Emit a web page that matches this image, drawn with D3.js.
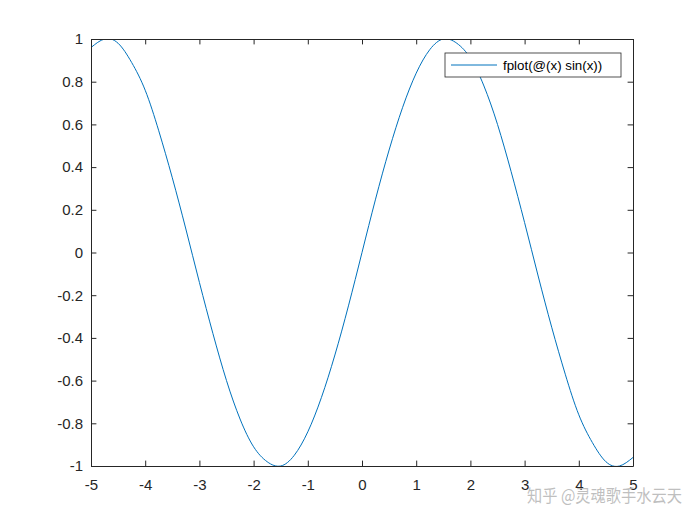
<!doctype html>
<html lang="zh">
<head>
    <meta charset="UTF-8">
    <title>fplot sin(x)</title>
    <script src="https://d3js.org/d3.v7.min.js"></script>
    <style>
      body { margin: 0; background: #fff; }
      text { font-family: "Liberation Sans", Arial, sans-serif; }
    </style>
</head>
<body>
    <svg width="700" height="525"></svg>

    <script>

      // Data
      const xs = [-5, -4.75, -4.5, -4.25, -4, -3.75, -3.5, -3.25, -3, -2.75, -2.5, -2.25, -2,
                  -1.75, -1.5, -1.25, -1, -0.75, -0.5, -0.25, 0, 0.25, 0.5, 0.75, 1, 1.25,
                  1.5, 1.75, 2, 2.25, 2.5, 2.75, 3, 3.25, 3.5, 3.75, 4, 4.25, 4.5, 4.75, 5];
      const ys = [0.96, 1.00, 0.98, 0.89, 0.76, 0.57, 0.35, 0.11, -0.14, -0.38, -0.60, -0.78, -0.91,
                  -0.98, -1.00, -0.95, -0.84, -0.68, -0.48, -0.25, 0, 0.25, 0.48, 0.68, 0.84, 0.95,
                  1.00, 0.98, 0.91, 0.78, 0.60, 0.38, 0.14, -0.11, -0.35, -0.57, -0.76, -0.89, -0.98, -1.00, -0.96];
      const xTicks = [-5, -4, -3, -2, -1, 0, 1, 2, 3, 4, 5];
      const yTicks = [-1, -0.8, -0.6, -0.4, -0.2, 0, 0.2, 0.4, 0.6, 0.8, 1];
      const legendLabel = "fplot(@(x) sin(x))";

      const svg = d3.select("svg");
      const pl = 91, pr = 633, pt = 39, pb = 466;
      const x = d3.scaleLinear().domain([-5, 5]).range([pl, pr]);
      const y = d3.scaleLinear().domain([-1, 1]).range([pb, pt]);
      const tick = 5.4;

      svg.append("clipPath").attr("id", "clip")
        .append("rect")
          .attr("x", pl).attr("y", pt)
          .attr("width", pr - pl).attr("height", pb - pt);

      // Curve
      const pts = xs.map((d, i) => [d, ys[i]]);
      svg.append("path")
          .attr("clip-path", "url(#clip)")
          .attr("d", d3.line().x(d => x(d[0])).y(d => y(d[1])).curve(d3.curveNatural)(pts))
          .attr("fill", "none")
          .attr("stroke", "#0072BD")
          .attr("stroke-width", 1);

      // Axes (ticks inward, box on all sides)
      const fmt = d => String(d);
      svg.append("g").attr("transform", "translate(0," + pb + ")")
          .call(d3.axisBottom(x).tickValues(xTicks).tickFormat(fmt).tickSizeInner(-tick).tickSizeOuter(0).tickPadding(13));
      svg.append("g").attr("transform", "translate(0," + pt + ")")
          .call(d3.axisTop(x).tickValues(xTicks).tickFormat("").tickSizeInner(-tick).tickSizeOuter(0));
      svg.append("g").attr("transform", "translate(" + pl + ",0)")
          .call(d3.axisLeft(y).tickValues(yTicks).tickFormat(fmt).tickSizeInner(-tick).tickSizeOuter(0).tickPadding(8));
      svg.append("g").attr("transform", "translate(" + pr + ",0)")
          .call(d3.axisRight(y).tickValues(yTicks).tickFormat("").tickSizeInner(-tick).tickSizeOuter(0));

      svg.selectAll(".domain").attr("stroke", "#262626");
      svg.selectAll(".tick line").attr("stroke", "#262626");
      svg.selectAll(".tick text")
          .attr("fill", "#262626")
          .style("font-size", "15px")
          .style("font-family", "'Liberation Sans', Arial, sans-serif");

      // Legend
      const lg = svg.append("g").attr("transform", "translate(445,53)");
      lg.append("rect").attr("width", 176).attr("height", 24)
          .attr("fill", "#fff").attr("stroke", "#262626").attr("stroke-width", 0.8);
      lg.append("line").attr("x1", 6).attr("x2", 52).attr("y1", 12).attr("y2", 12)
          .attr("stroke", "#0072BD").attr("stroke-width", 1);
      lg.append("text").attr("x", 58).attr("y", 16.5)
          .style("font-size", "13.3px").attr("fill", "#000").text(legendLabel);

      // Watermark
      svg.append("text").attr("x", 527).attr("y", 502)
          .style("font-family", "'Noto Sans CJK SC', sans-serif")
          .style("font-size", "17.5px")
          .attr("textLength", 155)
          .attr("lengthAdjust", "spacingAndGlyphs")
          .attr("fill", "#b4b4b4")
          .attr("fill-opacity", 0.85)
          .text("知乎 @灵魂歌手水云天");

    </script>
</body>
</html>
